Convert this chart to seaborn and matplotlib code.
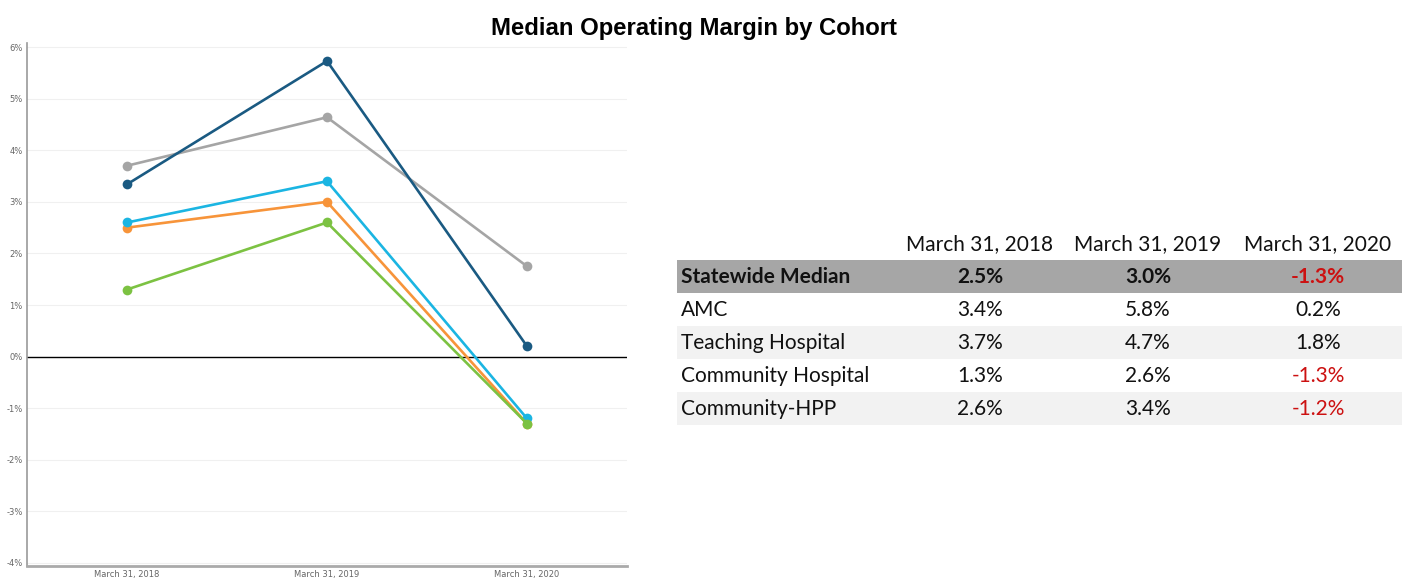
import pandas as pd
import numpy as np
import matplotlib.pyplot as plt
import seaborn as sns
from matplotlib.patches import Rectangle

periods = ['March 31, 2018', 'March 31, 2019', 'March 31, 2020']
cohorts = ['Teaching Hospital', 'AMC', 'Statewide Median', 'Community-HPP', 'Community Hospital']

# values shown in the table
statewide = [2.5, 3.0, -1.3]
amc = [3.4, 5.8, 0.2]
teaching = [3.7, 4.7, 1.8]
community = [1.3, 2.6, -1.3]
hpp = [2.6, 3.4, -1.2]

# unrounded points
amc_line = [3.34, 5.73, 0.2]
teaching_line = [3.7, 4.64, 1.75]

colors = {'Teaching Hospital': '#a5a5a5', 'AMC': '#1a5a82', 'Statewide Median': '#f7943a',
          'Community-HPP': '#1bb5e2', 'Community Hospital': '#7cc242'}

values = {'Teaching Hospital': teaching, 'AMC': amc, 'Statewide Median': statewide,
          'Community-HPP': hpp, 'Community Hospital': community}
line_values = dict(values, **{'AMC': amc_line, 'Teaching Hospital': teaching_line})
rows = []
for c in cohorts:
    for i, v in enumerate(line_values[c]):
        rows.append({'Cohort': c, 'x': i, 'Margin': v})
df = pd.DataFrame(rows)

sns.set_style('white')
plt.rcParams['font.family'] = ['DejaVu Sans']

fig = plt.figure(figsize=(14.02, 5.8), dpi=100)
W, H = 1402, 580

ax = fig.add_axes([27 / W, 1 - 566 / H, 600 / W, (566 - 43) / H])
sns.lineplot(data=df, x='x', y='Margin', hue='Cohort', hue_order=cohorts, palette=colors,
             marker='o', markersize=7, markeredgewidth=0, linewidth=1.9, sort=False,
             legend=False, ax=ax)
ax.set_xlim(-0.5, 2.5)
ax.set_ylim(-4.06, 6.08)
ax.set_yticks(range(-4, 7))
ax.set_yticklabels([f'{t}%' for t in range(-4, 7)], fontsize=6, color='#666666')
ax.set_xticks([0, 1, 2])
ax.set_xticklabels(periods, fontsize=6, color='#666666')
ax.set_xlabel('')
ax.set_ylabel('')
for t in range(-4, 7):
    if t != 0:
        ax.axhline(t, color='#f0f0f0', linewidth=0.8, zorder=0)
ax.axhline(0, color='black', linewidth=1.0, zorder=1)
ax.spines['top'].set_visible(False)
ax.spines['right'].set_visible(False)
ax.spines['left'].set_color('#999999')
ax.spines['left'].set_linewidth(1.2)
ax.spines['bottom'].set_color('#aaaaaa')
ax.spines['bottom'].set_linewidth(2)
ax.tick_params(axis='both', length=0, pad=3)

fig.text(694 / W, 1 - 28 / H, 'Median Operating Margin by Cohort', ha='center', va='center',
         fontsize=17.2, fontweight='bold', color='black',
         family=['Liberation Sans', 'DejaVu Sans'])

# table
tab = fig.add_axes([677 / W, 1 - 430 / H, 725 / W, 200 / H])
tab.set_xlim(677, 1402)
tab.set_ylim(430, 230)
tab.axis('off')
tfont = ['Lato', 'DejaVu Sans']
col_x = [980, 1148, 1318]
for x, p in zip(col_x, periods):
    tab.text(x, 244, p, ha='center', va='center', fontsize=15, family=tfont, color='#111111')

table_rows = ['Statewide Median', 'AMC', 'Teaching Hospital', 'Community Hospital', 'Community-HPP']
bgs = ['#a6a6a6', 'white', '#f2f2f2', 'white', '#f2f2f2']
for r, (name, bg) in enumerate(zip(table_rows, bgs)):
    top = 260 + 33 * r
    tab.add_patch(Rectangle((677, top), 725, 33, facecolor=bg, edgecolor='none'))
    yc = top + 16.5
    bold = 'bold' if r == 0 else 'normal'
    tab.text(681, yc, name, ha='left', va='center', fontsize=15, family=tfont,
             fontweight=bold, color='#111111')
    for x, v in zip(col_x, values[name]):
        tab.text(x, yc, f'{v:.1f}%', ha='center', va='center', fontsize=15, family=tfont,
                 fontweight=bold, color='#cc1111' if v < 0 else '#111111')

fig.savefig('out.png', dpi=100)
